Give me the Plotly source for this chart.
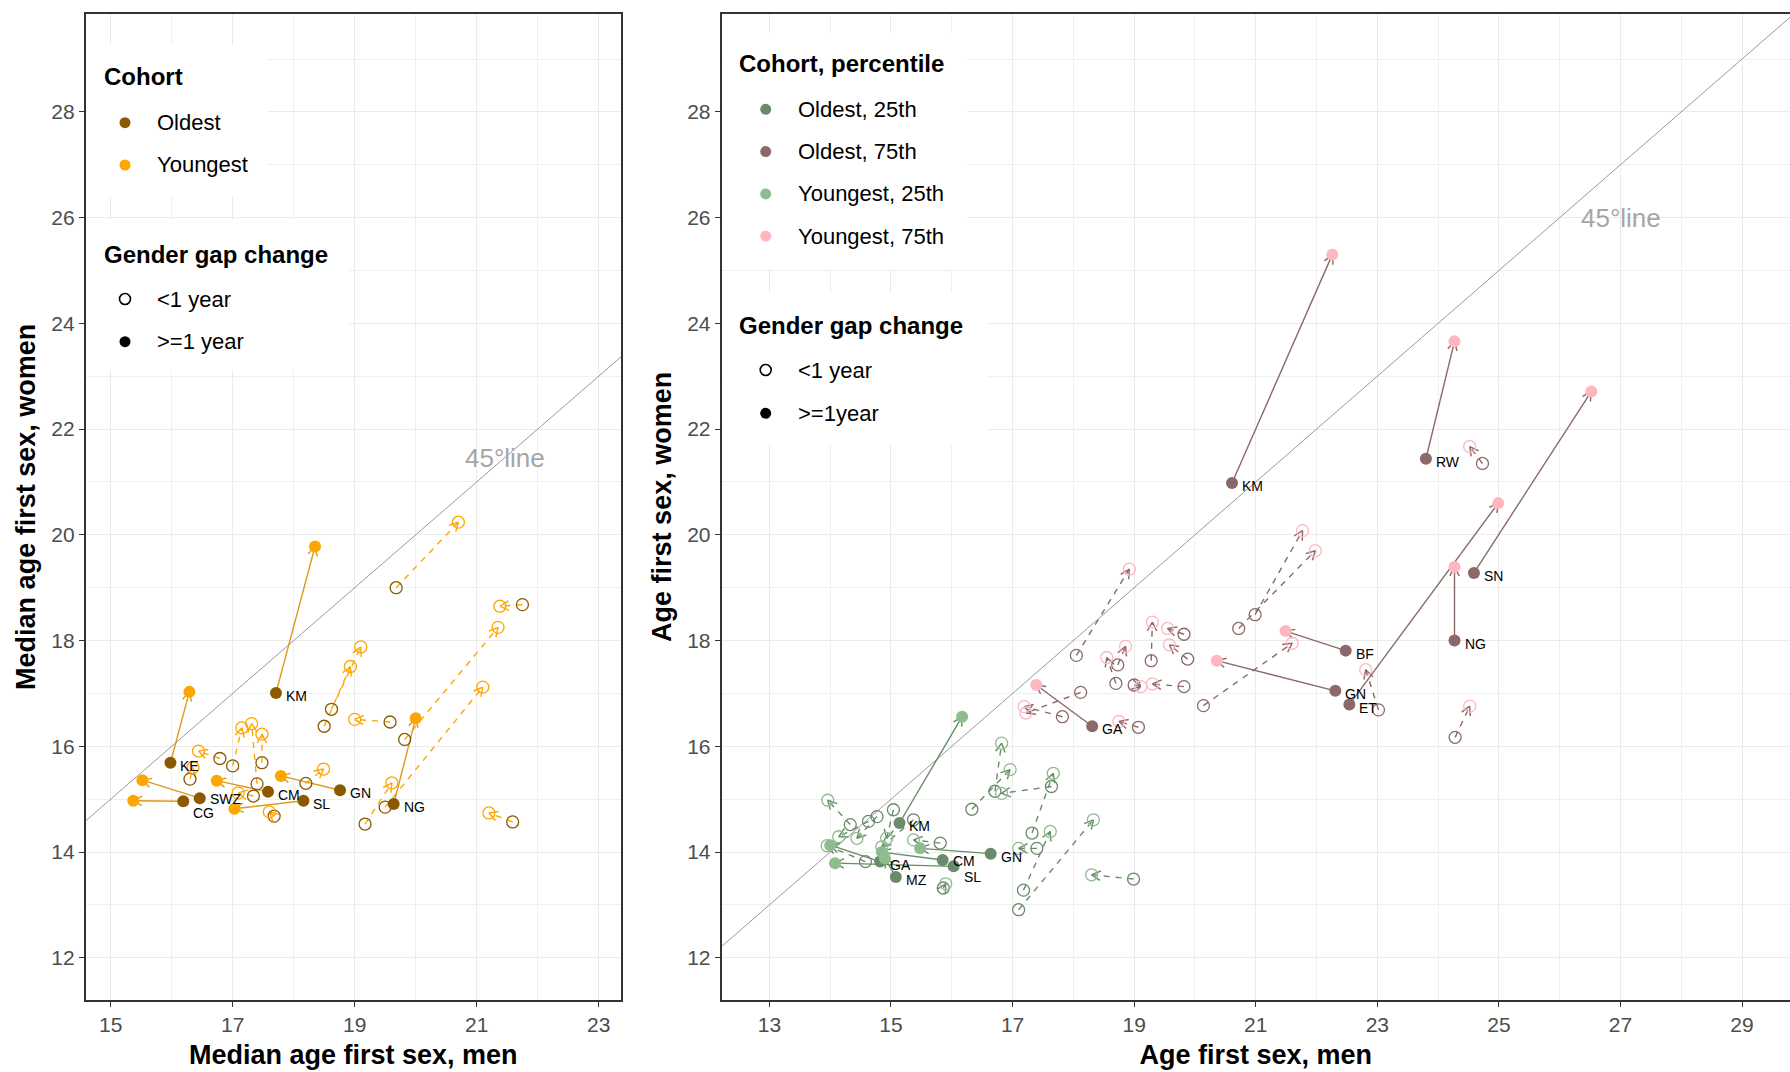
import numpy as np
import plotly.graph_objects as go

# ---------------- data: left panel (median) ----------------
L_lab = ["KM", "KE", "GN", "CM", "SL", "CG", "SWZ", "NG"]
L_old_x = [17.71, 15.98, 18.76, 17.58, 18.16, 16.19, 16.46, 19.64]
L_old_y = [17.01, 15.69, 15.17, 15.14, 14.97, 14.96, 15.02, 14.91]
L_yng_x = [18.35, 16.29, 17.79, 16.74, 17.03, 15.37, 15.52, 20.00]
L_yng_y = [19.78, 17.03, 15.44, 15.35, 14.82, 14.97, 15.36, 16.53]

Lh_old_x = [19.68, 21.75, 19.82, 19.50, 21.59, 19.58, 18.62, 18.50, 19.17, 17.48, 16.79, 17.00, 17.40, 17.34, 16.30, 17.68, 18.20]
Lh_old_y = [19.00, 18.68, 16.13, 14.85, 14.57, 16.46, 16.70, 16.38, 14.53, 15.69, 15.77, 15.63, 15.29, 15.06, 15.38, 14.68, 15.30]
Lh_yng_x = [20.70, 21.38, 21.35, 21.10, 21.20, 19.00, 19.10, 18.93, 19.61, 17.48, 16.44, 17.15, 17.31, 17.09, 16.35, 17.60, 18.49]
Lh_yng_y = [20.24, 18.65, 18.25, 17.12, 14.74, 16.51, 17.88, 17.51, 15.31, 16.23, 15.91, 16.35, 16.43, 15.12, 15.60, 14.76, 15.57]

# ---------------- data: right panel (percentiles) ----------------
R75_lab = ["KM", "RW", "SN", "NG", "BF", "GN", "ET", "GA"]
R75_old_x = [20.61, 23.80, 24.59, 24.27, 22.48, 22.31, 22.54, 18.31]
R75_old_y = [20.98, 21.44, 19.28, 18.00, 17.81, 17.05, 16.79, 16.38]
R75_yng_x = [22.26, 24.27, 26.52, 24.27, 21.49, 20.36, 24.99, 17.39]
R75_yng_y = [25.30, 23.66, 22.71, 19.39, 18.18, 17.62, 20.60, 17.16]

R25_lab = ["KM", "GN", "CM", "SL", "GA", "MZ"]
R25_old_x = [15.14, 16.64, 15.85, 16.03, 14.82, 15.08]
R25_old_y = [14.55, 13.97, 13.85, 13.73, 13.82, 13.53]
R25_yng_x = [16.17, 15.48, 14.85, 14.08, 14.00, 14.90]
R25_yng_y = [16.56, 14.07, 14.00, 13.79, 14.13, 13.88]

R75h_old_x = [20.99, 20.72, 18.05, 19.82, 19.28, 19.88, 18.73, 18.70, 19.00, 19.82, 20.14, 18.12, 17.82, 19.07, 23.02, 24.73, 24.28]
R75h_old_y = [18.49, 18.23, 17.72, 18.12, 17.62, 17.65, 17.54, 17.19, 17.16, 17.13, 16.77, 17.02, 16.56, 16.36, 16.69, 21.35, 16.17]
R75h_yng_x = [21.77, 21.98, 18.92, 19.55, 19.30, 19.58, 18.86, 18.55, 19.11, 19.30, 21.60, 17.22, 17.19, 18.75, 22.81, 24.52, 24.52]
R75h_yng_y = [20.08, 19.70, 19.35, 18.23, 18.35, 17.92, 17.89, 17.68, 17.13, 17.18, 17.95, 16.63, 16.75, 16.47, 17.45, 21.67, 16.76]

R25h_old_x = [16.33, 16.71, 17.64, 17.32, 17.18, 17.10, 17.40, 18.99, 14.33, 14.63, 14.77, 15.04, 15.37, 15.81, 14.58, 15.86]
R25h_old_y = [14.81, 15.15, 15.24, 14.36, 13.28, 12.91, 14.07, 13.49, 14.52, 14.58, 14.67, 14.80, 14.61, 14.17, 13.82, 13.32]
R25h_yng_x = [16.96, 16.82, 16.82, 17.67, 17.62, 18.33, 17.10, 18.30, 13.96, 14.14, 14.44, 14.93, 14.85, 15.37, 13.95, 15.90]
R25h_yng_y = [15.56, 16.06, 15.11, 15.49, 14.39, 14.61, 14.07, 13.57, 14.98, 14.29, 14.26, 14.26, 14.10, 14.23, 14.12, 13.40]

# legend texts
LEG1_TITLE = "Cohort"
LEG1_ITEMS = ["Oldest", "Youngest"]
LEG2_TITLE = "Gender gap change"
LEG2_ITEMS = ["<1 year", ">=1 year"]
LEG3_TITLE = "Cohort, percentile"
LEG3_ITEMS = ["Oldest, 25th", "Oldest, 75th", "Youngest, 25th", "Youngest, 75th"]
LEG4_TITLE = "Gender gap change"
LEG4_ITEMS = ["<1 year", ">=1year"]

# ---------------- layout geometry ----------------
W, H = 1790, 1072
LX_RANGE = [14.589, 23.366]
RX_RANGE = [12.212, 29.789]
Y_RANGE = [11.202, 29.857]
LX_DOM = [85.6 / W, 621.0 / W]
RX_DOM = [721.5 / W, 1.0]
Y_DOM = [(H - 1000.0) / H, (H - 13.7) / H]

def px_scale(xr, xd, yr, yd):
    sx = (xd[1] - xd[0]) * W / (xr[1] - xr[0])
    sy = (yd[1] - yd[0]) * H / (yr[1] - yr[0])
    return sx, sy

L_SC = px_scale(LX_RANGE, LX_DOM, Y_RANGE, Y_DOM)
R_SC = px_scale(RX_RANGE, RX_DOM, Y_RANGE, Y_DOM)

def segs(x0, y0, x1, y1):
    xs, ys = [], []
    for a, b, c, d in zip(x0, y0, x1, y1):
        xs += [a, c, None]
        ys += [b, d, None]
    return xs, ys

def heads(x0, y0, x1, y1, sc, L=10, ang=28):
    sx, sy = sc
    xs, ys = [], []
    for a, b, c, d in zip(x0, y0, x1, y1):
        dx = (c - a) * sx
        dy = (d - b) * sy
        n = np.hypot(dx, dy)
        if n < 3:
            continue
        ux, uy = dx / n, dy / n
        for s in (1, -1):
            t = np.radians(ang) * s
            rx = ux * np.cos(t) - uy * np.sin(t)
            ry = ux * np.sin(t) + uy * np.cos(t)
            xs += [c - L * rx / sx, c, None]
            ys += [d - L * ry / sy, d, None]
    return xs, ys

FONT = "Liberation Sans, Arial, sans-serif"
fig = go.Figure()
shapes = []
annotations = []

def add_arrows(x0, y0, x1, y1, sc, color, dash, xa, ya, width=1.4):
    sxs, sys_ = segs(x0, y0, x1, y1)
    fig.add_trace(go.Scatter(x=sxs, y=sys_, mode="lines", xaxis=xa, yaxis=ya,
                             line=dict(color=color, width=width, dash=dash),
                             showlegend=False, hoverinfo="skip"))
    hx, hy = heads(x0, y0, x1, y1, sc)
    fig.add_trace(go.Scatter(x=hx, y=hy, mode="lines", xaxis=xa, yaxis=ya,
                             line=dict(color=color, width=width),
                             showlegend=False, hoverinfo="skip"))

def add_pts(x, y, color, filled, xa, ya, size=12):
    if filled:
        m = dict(color=color, size=size, symbol="circle", line=dict(width=0))
    else:
        m = dict(color=color, size=size, symbol="circle-open", line=dict(width=1.3, color=color))
    fig.add_trace(go.Scatter(x=x, y=y, mode="markers", xaxis=xa, yaxis=ya, marker=m,
                             showlegend=False, hoverinfo="skip"))

# small per-label vertical nudges (pixels) to keep crowded labels readable
NUDGE = {("x", "CG"): -9, ("x", "SWZ"): 2, ("x2", "SL"): -8, ("x2", "CM"): 2}

def add_labels(x, y, t, xa, ya):
    for xx, yy, s in zip(x, y, t):
        annotations.append(dict(x=xx, y=yy, xref=xa, yref=ya, text=s, showarrow=False,
                                xanchor="left", yanchor="middle", xshift=8,
                                yshift=-3 + NUDGE.get((xa, s), 0),
                                font=dict(size=14, color="black", family=FONT)))

LINE45 = "#999999"
fig.add_trace(go.Scatter(x=LX_RANGE, y=LX_RANGE, mode="lines", xaxis="x", yaxis="y",
                         line=dict(color=LINE45, width=1), showlegend=False, hoverinfo="skip"))
fig.add_trace(go.Scatter(x=RX_RANGE, y=RX_RANGE, mode="lines", xaxis="x2", yaxis="y2",
                         line=dict(color=LINE45, width=1), showlegend=False, hoverinfo="skip"))

# colours
C_OLD = "#8B5A00"
C_YNG = "#FFA500"
C_ARR = "#DB9B1C"
C_O25 = "#698B69"
C_O75 = "#8B6969"
C_Y25 = "#8FBC8F"
C_Y75 = "#FFB6C1"

# ---- left panel ----
add_arrows(Lh_old_x, Lh_old_y, Lh_yng_x, Lh_yng_y, L_SC, C_YNG, "6px,6px", "x", "y")
add_arrows(L_old_x, L_old_y, L_yng_x, L_yng_y, L_SC, C_ARR, "solid", "x", "y")
add_pts(Lh_old_x, Lh_old_y, C_OLD, False, "x", "y")
add_pts(Lh_yng_x, Lh_yng_y, C_YNG, False, "x", "y")
add_pts(L_old_x, L_old_y, C_OLD, True, "x", "y")
add_pts(L_yng_x, L_yng_y, C_YNG, True, "x", "y")
add_labels(L_old_x, L_old_y, L_lab, "x", "y")

# ---- right panel ----
add_arrows(R25h_old_x, R25h_old_y, R25h_yng_x, R25h_yng_y, R_SC, C_O25, "6px,6px", "x2", "y2")
add_arrows(R75h_old_x, R75h_old_y, R75h_yng_x, R75h_yng_y, R_SC, C_O75, "6px,6px", "x2", "y2")
add_arrows(R25_old_x, R25_old_y, R25_yng_x, R25_yng_y, R_SC, C_O25, "solid", "x2", "y2")
add_arrows(R75_old_x, R75_old_y, R75_yng_x, R75_yng_y, R_SC, C_O75, "solid", "x2", "y2")
add_pts(R25h_old_x, R25h_old_y, C_O25, False, "x2", "y2")
add_pts(R75h_old_x, R75h_old_y, C_O75, False, "x2", "y2")
add_pts(R25h_yng_x, R25h_yng_y, C_Y25, False, "x2", "y2")
add_pts(R75h_yng_x, R75h_yng_y, C_Y75, False, "x2", "y2")
add_pts(R25_old_x, R25_old_y, C_O25, True, "x2", "y2")
add_pts(R75_old_x, R75_old_y, C_O75, True, "x2", "y2")
add_pts(R25_yng_x, R25_yng_y, C_Y25, True, "x2", "y2")
add_pts(R75_yng_x, R75_yng_y, C_Y75, True, "x2", "y2")
add_labels(R25_old_x, R25_old_y, R25_lab, "x2", "y2")
add_labels(R75_old_x, R75_old_y, R75_lab, "x2", "y2")

# ---- manual legends (white boxes, circle keys, text) ----
def px(x):
    return x / W

def py(y):
    return 1 - y / H

def box(x0, y0, x1, y1):
    shapes.append(dict(type="rect", xref="paper", yref="paper", layer="above",
                       x0=px(x0), x1=px(x1), y0=py(y1), y1=py(y0),
                       fillcolor="white", line=dict(width=0)))

def key(x, y, color, filled, r=5.5):
    shapes.append(dict(type="circle", xref="paper", yref="paper", layer="above",
                       xsizemode="pixel", ysizemode="pixel",
                       xanchor=px(x), yanchor=py(y), x0=-r, x1=r, y0=-r, y1=r,
                       fillcolor=color if filled else "white",
                       line=dict(width=0 if filled else 1.6, color=color)))

def text(x, y, s, size, bold=False):
    annotations.append(dict(x=px(x), y=py(y), xref="paper", yref="paper",
                            xanchor="left", yanchor="middle", showarrow=False,
                            text=("<b>%s</b>" % s) if bold else s,
                            font=dict(size=size, color="black", family=FONT)))

def legend_block(x_box0, x_box1, y_box0, y_box1, title, title_y, items, colors, fills,
                 item_y0, step, kx, tx):
    box(x_box0, y_box0, x_box1, y_box1)
    text(x_box0 + 14, title_y, title, 24, bold=True)
    for i, (it, c, f) in enumerate(zip(items, colors, fills)):
        yy = item_y0 + i * step
        key(kx, yy, c, f)
        text(tx, yy, it, 22)

legend_block(87.5, 267, 45, 197, LEG1_TITLE, 76.7, LEG1_ITEMS, [C_OLD, C_YNG], [True, True],
             122.7, 42.3, 125, 155)
legend_block(87.5, 349, 220, 370, LEG2_TITLE, 254, LEG2_ITEMS, ["black", "black"], [False, True],
             299, 42.7, 125, 155)
legend_block(723, 967, 33, 269, LEG3_TITLE, 63.3, LEG3_ITEMS, [C_O25, C_O75, C_Y25, C_Y75],
             [True, True, True, True], 109.3, 42.3, 765.7, 796)
legend_block(723, 988, 293, 445, LEG4_TITLE, 325, LEG4_ITEMS, ["black", "black"], [False, True],
             370, 43.3, 765.7, 796)

annotations += [
    dict(x=21.46, y=21.45, xref="x", yref="y", text="45°line", showarrow=False,
         font=dict(size=26, color="#A6A6A6", family=FONT)),
    dict(x=27.01, y=26.0, xref="x2", yref="y2", text="45°line", showarrow=False,
         font=dict(size=26, color="#A6A6A6", family=FONT)),
]

GRID = "#EBEBEB"
TICKFONT = dict(size=21, color="#4D4D4D", family=FONT)

def xax(rng, dom, t0, anchor, title):
    return dict(range=rng, domain=dom, anchor=anchor, tick0=t0, dtick=2,
                showgrid=True, gridcolor=GRID, gridwidth=1.2,
                minor=dict(dtick=1, tick0=t0, showgrid=True, gridcolor="#F0F0F0", gridwidth=0.8),
                ticks="outside", ticklen=5, tickcolor="#333333", tickwidth=1.2,
                tickfont=TICKFONT,
                showline=True, linecolor="#333333", linewidth=1.5, mirror=True,
                zeroline=False,
                title=dict(text="<b>" + title + "</b>", font=dict(size=27, color="black", family=FONT), standoff=10))

def yax(dom, anchor, title, mirror):
    return dict(range=Y_RANGE, domain=dom, anchor=anchor, tick0=12, dtick=2,
                showgrid=True, gridcolor=GRID, gridwidth=1.2,
                minor=dict(dtick=1, tick0=12, showgrid=True, gridcolor="#F0F0F0", gridwidth=0.8),
                ticks="outside", ticklen=5, tickcolor="#333333", tickwidth=1.2,
                tickfont=TICKFONT,
                showline=True, linecolor="#333333", linewidth=1.5, mirror=mirror,
                zeroline=False,
                title=dict(text="<b>" + title + "</b>", font=dict(size=27, color="black", family=FONT), standoff=8))

fig.update_layout(
    width=W, height=H, margin=dict(l=0, r=0, t=0, b=0),
    paper_bgcolor="white", plot_bgcolor="white",
    font=dict(family=FONT),
    xaxis=xax(LX_RANGE, LX_DOM, 15, "y", "Median age first sex, men"),
    yaxis=yax(Y_DOM, "x", "Median age first sex, women", True),
    xaxis2=xax(RX_RANGE, RX_DOM, 13, "y2", "Age first sex, men"),
    yaxis2=yax(Y_DOM, "x2", "Age first sex, women", False),
    showlegend=False,
    shapes=shapes,
    annotations=annotations,
)

fig.write_html("out.html", config={"displayModeBar": False},
               post_script="document.body.style.margin='0';")
